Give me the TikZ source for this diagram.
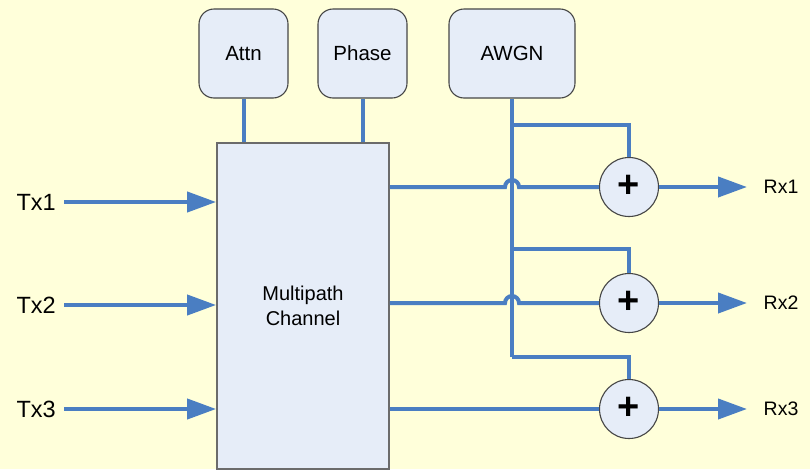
\documentclass[tikz,border=0pt]{standalone}
\usepackage{fontspec}
\setmainfont{Liberation Sans}
\usetikzlibrary{arrows.meta,calc}

\definecolor{bgyellow}{RGB}{255,255,218}
\definecolor{wireblue}{RGB}{74,126,194}
\definecolor{boxfill}{RGB}{230,237,248}
\definecolor{boxline}{RGB}{70,70,70}

\begin{document}
\begin{tikzpicture}[x=1pt,y=-1pt,
  wire/.style={draw=wireblue,line width=4pt},
  sig/.style={wire,-{Triangle[length=29pt,width=20pt]}},
  ctrlbox/.style={draw=boxline,fill=boxfill,line width=1.1pt,rounded corners=15pt,
    minimum height=89pt,font=\fontsize{20.5}{24}\selectfont},
  chanbox/.style={draw=boxline!80,fill=boxfill,line width=1.8pt,
    font=\fontsize{20}{25}\selectfont,align=center},
  adder/.style={circle,draw=boxline,fill=boxfill,line width=1.1pt,minimum size=59pt,
    inner sep=0pt,font=\bfseries\fontsize{38}{38}\selectfont},
  txlabel/.style={font=\fontsize{23.5}{27}\selectfont,inner sep=0pt},
  rxlabel/.style={font=\fontsize{19.5}{23}\selectfont,inner sep=0pt}]

\fill[bgyellow] (0,0) rectangle (810,469);
\useasboundingbox (0,0) rectangle (810,469);

% control blocks
\node[ctrlbox,minimum width=89pt] (attn) at (243.5,53.5) {Attn};
\node[ctrlbox,minimum width=89pt] (phase) at (362.5,53.5) {Phase};
\node[ctrlbox,minimum width=126pt] (awgn) at (512,53.5) {AWGN};

% channel block
\node[chanbox,minimum width=172pt,minimum height=326pt] (chan) at (303,306)
  {Multipath\\Channel};

% adders
\node[adder] (sum1) at (629,187) {\raisebox{2pt}{+}};
\node[adder] (sum2) at (629,303) {\raisebox{2pt}{+}};
\node[adder] (sum3) at (629,409) {\raisebox{2pt}{+}};

% inputs
\coordinate (t1) at (64,202);
\coordinate (t2) at (64,305);
\coordinate (t3) at (64,409);
\node[txlabel,anchor=east] (tx1) at ($(t1)+(-8,0)$) {Tx1};
\node[txlabel,anchor=east] (tx2) at ($(t2)+(-8,0)$) {Tx2};
\node[txlabel,anchor=east] (tx3) at ($(t3)+(-8,0)$) {Tx3};
\draw[sig] (t1) -- (t1 -| chan.west);
\draw[sig] (t2) -- (t2 -| chan.west);
\draw[sig] (t3) -- (t3 -| chan.west);

% control connections
\draw[wire] (attn.south) -- (attn.south |- chan.north);
\draw[wire] (phase.south) -- (phase.south |- chan.north);

% noise distribution
\coordinate (b1) at (512,125);
\coordinate (b2) at (512,249);
\coordinate (b3) at (512,357);

% channel outputs (hopping over the noise bus)
\draw[wire] (chan.east |- sum1) -- ($(b1 |- sum1)+(-7,0)$)
  arc[start angle=180,end angle=360,radius=7] -- (sum1.west);
\draw[wire] (chan.east |- sum2) -- ($(b1 |- sum2)+(-7,0)$)
  arc[start angle=180,end angle=360,radius=7] -- (sum2.west);
\draw[wire] (chan.east |- sum3) -- (sum3.west);

\draw[wire] (awgn.south) -- (b3);
\draw[wire] (b1) -| (sum1.north);
\draw[wire] (b2) -| (sum2.north);
\draw[wire] (b3) -| (sum3.north);

% outputs
\coordinate (r1) at (747,187);
\coordinate (r2) at (747,303);
\coordinate (r3) at (747,409);
\draw[sig] (sum1.east) -- (r1);
\draw[sig] (sum2.east) -- (r2);
\draw[sig] (sum3.east) -- (r3);
\node[rxlabel] (rx1) at ($(r1)+(34,0)$) {Rx1};
\node[rxlabel] (rx2) at ($(r2)+(34,0)$) {Rx2};
\node[rxlabel] (rx3) at ($(r3)+(34,0)$) {Rx3};

\end{tikzpicture}
\end{document}
